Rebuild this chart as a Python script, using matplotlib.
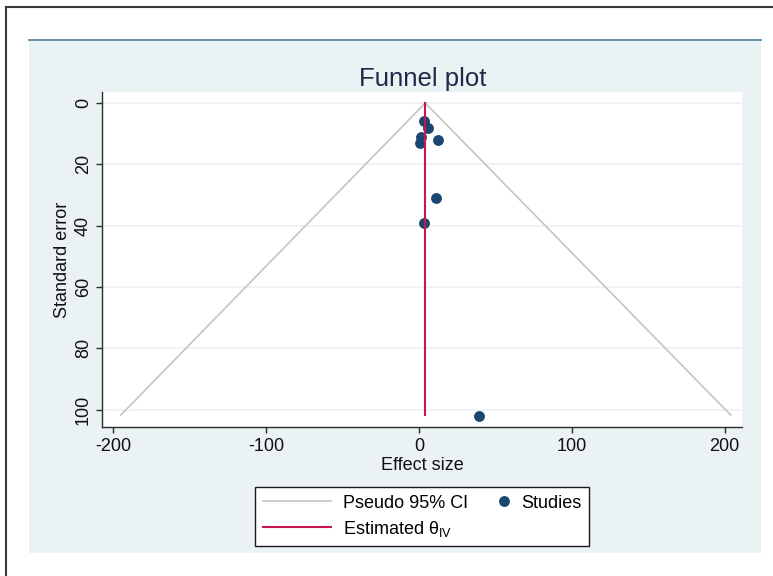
import numpy as np
import matplotlib
matplotlib.use('Agg')
import matplotlib.pyplot as plt
from matplotlib.lines import Line2D
from matplotlib.patches import Rectangle
from matplotlib.legend_handler import HandlerLine2D

plt.rcParams['font.family'] = ['Liberation Sans', 'DejaVu Sans']
plt.rcParams['mathtext.fontset'] = 'custom'
plt.rcParams['mathtext.rm'] = 'Liberation Sans'
plt.rcParams['axes.unicode_minus'] = False

# study estimates
effect = [3.5, 6.0, 1.0, 0.5, 12.5, 11.0, 3.5, 39.5]
std_err = [6, 8, 11, 13, 12, 31, 39, 102]

# pooled estimate and pseudo 95% CI funnel
theta_iv = 4.1
se_max = 101.8
ci_x = [-195.2, theta_iv, 204.0]
ci_se = [se_max, 0.0, se_max]

xticks = [-200, -100, 0, 100, 200]
yticks = [0, 20, 40, 60, 80, 100]

W, H = 773, 576
navy = '#1a476f'
cranberry = '#c8174b'
bg = '#eaf2f3'


class MarkerRight(HandlerLine2D):
    # put the dot near the right end of the handle, like Stata does
    def create_artists(self, legend, orig_handle, xdescent, ydescent,
                       width, height, fontsize, trans):
        arts = super().create_artists(legend, orig_handle, xdescent, ydescent,
                                      width, height, fontsize, trans)
        for a in arts:
            n = len(a.get_xdata())
            a.set_xdata([width * 0.93 - xdescent] * n)
        return arts


fig = plt.figure(figsize=(W / 100, H / 100), dpi=100)

# graph region and outer frame
fig.add_artist(Rectangle((29 / W, 1 - 553 / H), (761 - 29) / W, (553 - 40) / H,
                         transform=fig.transFigure, facecolor=bg,
                         edgecolor='none', zorder=0))
fig.add_artist(Line2D([29 / W, 761 / W], [1 - 40 / H] * 2, transform=fig.transFigure,
                      color='#5d89a5', lw=1.3))
fig.add_artist(Line2D([6 / W, 1], [1 - 7 / H] * 2, transform=fig.transFigure,
                      color='#3a3a3a', lw=1.5))
fig.add_artist(Line2D([6 / W] * 2, [0, 1 - 7 / H], transform=fig.transFigure,
                      color='#3a3a3a', lw=1.5))

ax = fig.add_axes([102.3 / W, 1 - 427.3 / H, (742.3 - 102.3) / W, (427.3 - 92) / H])
ax.set_facecolor('white')

ci_line, = ax.plot(ci_x, ci_se, color='#c4c4c4', lw=1.2, zorder=2,
                   label='Pseudo 95% CI')
dots, = ax.plot(effect, std_err, 'o', ms=6.8, color=navy, linestyle='none',
                zorder=3, label='Studies')
est_line, = ax.plot([theta_iv, theta_iv], [0, se_max], color=cranberry, lw=1.5,
                    zorder=4, label='Estimated θ$_{\\mathregular{IV}}$')

ax.set_xlim(-207.3, 211.6)
ax.set_ylim(105.8, -3.6)
ax.set_xticks(xticks)
ax.set_yticks(yticks)
ax.yaxis.grid(True, color='#edf0f1', lw=1.2)
ax.set_axisbelow(True)

for s in ['top', 'right']:
    ax.spines[s].set_visible(False)
for s in ['left', 'bottom']:
    ax.spines[s].set_color('#2b2b2b')
    ax.spines[s].set_linewidth(1.0)

ax.tick_params(axis='both', length=4, width=1, color='#2b2b2b',
               labelsize=13, labelcolor='#111111')
ax.tick_params(axis='x', pad=4)
ax.tick_params(axis='y', pad=3.5)
plt.setp(ax.get_yticklabels(), rotation=90, va='center', ha='right')

ax.set_xlabel('Effect size', fontsize=13, color='#111111', labelpad=1)
ax.set_ylabel('Standard error', fontsize=13, color='#111111', labelpad=3)
ax.set_title('Funnel plot', fontsize=18.5, color='#1e2a4a', pad=4)

leg = ax.legend([ci_line, est_line, dots],
                ['Pseudo 95% CI', 'Estimated θ$_{\\mathregular{IV}}$', 'Studies'],
                ncol=2, loc='upper center',
                bbox_to_anchor=(422 / W, 1 - 487 / H), bbox_transform=fig.transFigure,
                borderaxespad=0,
                fontsize=13, handlelength=3.8, handletextpad=0.66,
                columnspacing=-1.53, labelspacing=0.4, borderpad=0.42,
                fancybox=False, framealpha=1, edgecolor='#1a1a1a',
                handler_map={dots: MarkerRight()})
leg.get_frame().set_linewidth(1.0)

fig.savefig('out.png', dpi=100)
